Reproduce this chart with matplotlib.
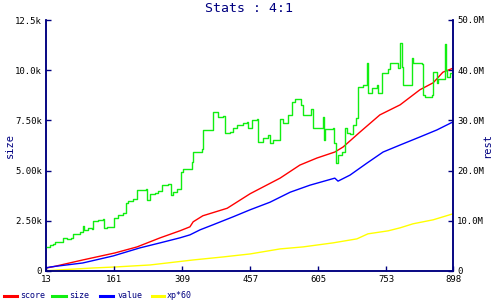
import matplotlib
matplotlib.use("Agg")
import matplotlib.pyplot as plt
from matplotlib.lines import Line2D

# ---- data ----
size_x = [13, 22, 28, 33, 43, 50, 59, 67, 72, 85, 87, 93, 96, 104, 113, 115, 126, 137, 139, 146,
          159, 161, 170, 180, 187, 191, 202, 211, 230, 233, 239, 250, 257, 265, 278, 285, 289, 298,
          302, 307, 311, 326, 330, 333, 352, 354, 374, 376, 387, 398, 402, 413, 420, 428, 441, 450,
          452, 461, 472, 474, 485, 496, 500, 507, 517, 522, 528, 539, 548, 554, 565, 567, 572, 587,
          589, 594, 604, 615, 617, 620, 637, 639, 644, 648, 657, 663, 668, 674, 681, 687, 691, 702,
          711, 713, 722, 733, 735, 744, 757, 761, 778, 783, 787, 789, 805, 809, 811, 831, 833, 837,
          852, 855, 861, 863, 865, 876, 881, 883, 885, 891, 898]
size_y = [1195, 1295, 1345, 1445, 1445, 1643, 1594, 1643, 1843, 1843, 1942, 2241, 2042, 2141, 2092,
          2490, 2540, 2590, 2141, 2191, 2191, 2639, 2789, 2888, 3386, 3486, 3586, 4034, 4084, 3536,
          3835, 3884, 3984, 4283, 4333, 3785, 3934, 4084, 4084, 4930, 5080, 5080, 5428, 5926, 6076,
          7022, 7022, 7918, 7669, 7719, 6872, 6922, 7121, 7271, 7370, 7420, 7121, 7520, 7570, 6424,
          6623, 6773, 6374, 6524, 6524, 7570, 7370, 7769, 8416, 8566, 8566, 8267, 7769, 7769, 8068,
          7121, 7121, 7669, 6524, 7072, 7121, 6374, 5378, 5777, 5926, 7121, 6872, 6823, 7271, 7619,
          9163, 9263, 10358, 8864, 9113, 9263, 8864, 9860, 10060, 10358, 10109, 11354, 10159, 9263,
          9263, 10607, 10358, 10309, 8765, 8665, 8765, 9910, 9910, 9362, 9561, 9561, 11305, 10010,
          9661, 9860, 9810]

score_x = [13, 26, 93, 163, 211, 261, 304, 326, 333, 354, 407, 457, 522, 565, 602, 641, 659,
           696, 739, 783, 826, 855, 876, 898]
score_y = [0.6, 0.8, 2.2, 3.6, 4.8, 6.6, 8.0, 8.8, 9.8, 11.0, 12.5, 15.4, 18.5, 21.1, 22.5, 23.7,
           24.7, 27.7, 31.1, 33.1, 36.1, 37.5, 39.6, 40.4]  # millions

value_x = [13, 22, 93, 159, 217, 261, 304, 326, 348, 376, 420, 457, 500, 544, 587, 641, 648,
           674, 711, 746, 783, 826, 863, 898]
value_y = [0.6, 0.8, 1.6, 3.0, 4.6, 5.6, 6.6, 7.2, 8.2, 9.2, 10.8, 12.2, 13.7, 15.7, 17.1, 18.5,
           17.9, 19.1, 21.5, 23.7, 25.1, 26.7, 28.1, 29.7]  # millions

xp_x = [13, 115, 163, 239, 333, 398, 457, 522, 572, 637, 689, 713, 757, 783, 811, 855, 891, 898]
xp_y = [0.06, 0.6, 0.8, 1.2, 2.2, 2.8, 3.4, 4.4, 4.8, 5.6, 6.4, 7.4, 8.0, 8.6, 9.4, 10.2, 11.2,
        11.4]  # millions

x_ticks = [13, 161, 309, 457, 605, 753, 898]
left_ticks = [0, 2500, 5000, 7500, 10000, 12500]
left_labels = ["0", "2.50k", "5.00k", "7.50k", "10.0k", "12.5k"]
right_ticks = [0, 10, 20, 30, 40, 50]
right_labels = ["0", "10.0M", "20.0M", "30.0M", "40.0M", "50.0M"]
legend_names = ["score", "size", "value", "xp*60"]

# ---- style ----
NAVY = "#000080"
C_RED, C_GREEN, C_BLUE, C_YEL = "#ff0000", "#11ee11", "#0000ff", "#ffff00"
MONO = "DejaVu Sans Mono"

fig = plt.figure(figsize=(5, 3), dpi=100)
ax = fig.add_axes([46/500, 1-271/300, (453-46)/500, (271-20)/300])
ax2 = ax.twinx()

ax2.plot(score_x, score_y, color=C_RED, lw=1.0)
ax2.plot(value_x, value_y, color=C_BLUE, lw=1.0)
ax2.plot(xp_x, xp_y, color=C_YEL, lw=1.0)
ax.plot(size_x, size_y, color=C_GREEN, lw=1.0, drawstyle="steps-post")
ax.set_zorder(ax2.get_zorder() + 1)
ax.patch.set_visible(False)

ax.set_xlim(13, 898)
ax.set_ylim(0, 12500)
ax2.set_ylim(0, 50)

ax.set_xticks(x_ticks)
ax.set_xticklabels([str(v) for v in x_ticks])
ax.set_yticks(left_ticks)
ax.set_yticklabels(left_labels)
ax2.set_yticks(right_ticks)
ax2.set_yticklabels(right_labels)

for a in (ax, ax2):
    for side in ("left", "right", "bottom"):
        a.spines[side].set_color(NAVY)
        a.spines[side].set_linewidth(1.1)
    a.spines["top"].set_visible(False)
    a.tick_params(direction="in", length=3.5, width=1.0, color=NAVY,
                  labelsize=6.5, pad=3, labelfontfamily=MONO, labelcolor="black")

ax.set_ylabel("size", family=MONO, fontsize=7.5, color=NAVY)
ax2.set_ylabel("rest", family=MONO, fontsize=7.5, color=NAVY, rotation=90, va="center")
ax.yaxis.set_label_coords(-0.076, 0.5)
ax2.yaxis.set_label_coords(1.0835, 0.5)

fig.text(0.498, 1-8/300, "Stats : 4:1", family=MONO, fontsize=9.5, color=NAVY,
         ha="center", va="center")

# legend
ly = 1 - 295.5/300
items = [(4, 17, 20, C_RED), (52, 66, 69, C_GREEN), (100, 113, 118, C_BLUE), (152, 164, 167, C_YEL)]
for name, (x0, x1, xt, c) in zip(legend_names, items):
    fig.add_artist(Line2D([x0/500, x1/500], [ly, ly], color=c, lw=2.2, transform=fig.transFigure))
    fig.text(xt/500, ly, name, family=MONO, fontsize=6, color=NAVY, ha="left", va="center")

fig.savefig("out.png", dpi=100)
